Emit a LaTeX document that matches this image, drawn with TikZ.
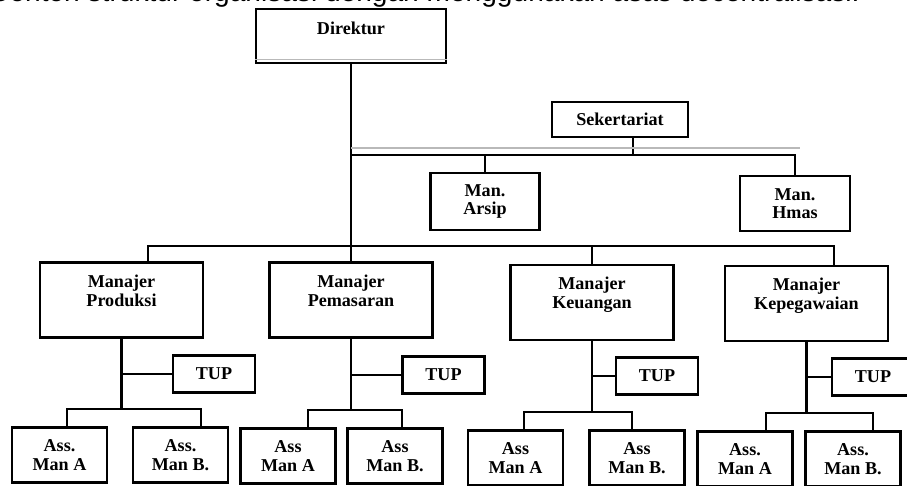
\documentclass[tikz,border=0pt]{standalone}
\usepackage{fontspec}
\setmainfont{Liberation Serif}
\newfontfamily\capfont{Liberation Sans}
\usetikzlibrary{calc}

\begin{document}
\begin{tikzpicture}[x=.02cm, y=-.02cm, line width=1.4pt,
  unit/.style={draw, line width=1.6pt, fill=white, inner sep=0pt, align=center,
    font=\bfseries\fontsize{10.3}{10.6}\selectfont},
  mgr/.style={unit, minimum width=3.26cm, minimum height=1.5cm, text depth=.38cm},
  tup/.style={unit, minimum width=1.64cm, minimum height=.74cm},
  ass/.style={unit, minimum width=1.9cm, minimum height=1.1cm},
  scan/.style={gray!55, line width=.6pt}]
\useasboundingbox (0,0) rectangle (907,486);
\clip (0,0) rectangle (907,486);

% caption line, only its lower half is on the page
\node[anchor=base west, inner sep=0pt, font=\capfont\fontsize{16}{17}\selectfont] (cap) at (-12,2) {Contoh struktur organisasi dengan menggunakan asas decentralisasi.};

% top level
\node[unit, minimum width=3.8cm, minimum height=1.08cm, text depth=.3cm] (dir) at (351,36) {Direktur};
\draw[scan] ($(dir.south west)+(0,-5)$) -- ($(dir.south east)+(0,-5)$);
\node[unit, minimum width=2.72cm, minimum height=.7cm] (sek) at (620,119.5) {Sekertariat};
\node[unit, minimum width=2.18cm, minimum height=1.14cm] (arsip) at (485,201.5) {Man.\\Arsip};
\node[unit, minimum width=2.2cm, minimum height=1.1cm] (hmas) at (795,203.5) {Man.\\Hmas};

% managers
\node[mgr] (prod) at (121.5,300) {Manajer\\Produksi};
\node[mgr] (pem) at (351,300) {Manajer\\Pemasaran};
\node[mgr] (keu) at (592,302.5) {Manajer\\Keuangan};
\node[mgr] (kep) at (806.5,303.5) {Manajer\\Kepegawaian};

\node[tup] (prod-tup) at (214,374) {TUP};
\node[tup] (pem-tup) at (443.5,375) {TUP};
\node[tup] (keu-tup) at (657,376) {TUP};
\node[tup] (kep-tup) at (873,377) {TUP};

\node[ass] (prod-a) at (59.5,455) {Ass.\\Man A};
\node[ass] (prod-b) at (180.5,455) {Ass.\\Man B.};
\node[ass] (pem-a) at (288,456) {Ass\\Man A};
\node[ass] (pem-b) at (395,456) {Ass\\Man B.};
\node[ass] (keu-a) at (515.5,458) {Ass\\Man A};
\node[ass] (keu-b) at (637,458) {Ass\\Man B.};
\node[ass] (kep-a) at (745,459) {Ass.\\Man A};
\node[ass] (kep-b) at (853,459) {Ass.\\Man B.};

% lines from the director
\coordinate (mainbar) at (351,246);
\coordinate (sekbar) at (351,155);
\coordinate (sekfoot) at ($(sek.south)+(13,0)$);
\draw (dir.south) -- (pem.north);
\draw ($(prod.north)+(26.5,0)$) |- (mainbar) -| ($(kep.north)+(27.5,0)$);
\draw (keu.north) -- (keu.north |- mainbar);
\draw (sekbar) -| (hmas.north);
\draw (sekfoot) -- (sekfoot |- sekbar);
\draw (arsip.north) -- (arsip.north |- sekbar);
\draw[scan] ($(sekbar)+(0,-7)$) -- ++(449,0);

% each manager: TUP on the side, two assistants below
\foreach \m/\sa/\sb in {prod/7.5/20.5, pem/20/7, keu/8.5/-5, kep/21/20}{
  \coordinate (\m-l) at ($(\m-a.north)+(\sa,0)$);
  \coordinate (\m-r) at ($(\m-b.north)+(\sb,0)$);
  \draw (\m-l) -- ++(0,-17) coordinate (\m-bar) -| (\m-r);
  \draw (\m.south) -- (\m.south |- \m-bar);
  \draw (\m-tup.west) -- (\m-tup.west -| \m.south);
}

\end{tikzpicture}
\end{document}
